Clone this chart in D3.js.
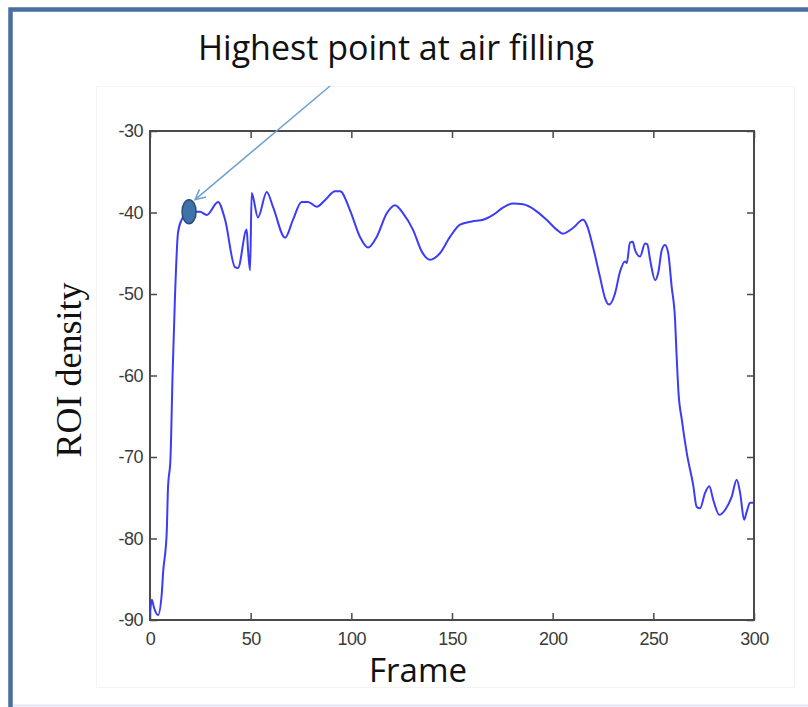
<!DOCTYPE html>
<html>
<head>
<meta charset="utf-8">
<script src="https://cdn.jsdelivr.net/npm/d3@7"></script>
<style>
  body { margin: 0; background: #fff; }
  svg { display: block; }
</style>
</head>
<body>
<svg id="chart" width="808" height="707"></svg>
<script>
// ROI density per frame
const frames = [0, 0.9, 2, 4, 5.8, 6.5, 8.3, 8.9, 10.2, 11.2, 12.4, 13.9, 15.7, 19.4, 24.8, 28.2,
  33.8, 37.3, 42.2, 43.7, 48.0, 48.7, 49.7, 50.5, 51.2, 53.6, 58.0, 61.1, 67.1, 71.0, 75.3,
  78.5, 82.8, 86.9, 91.9, 94.4, 99.3, 104.3, 108.3, 112.6, 117.6, 121.7, 125.7, 130.6, 135.0,
  139.1, 144.0, 149.0, 154.0, 159.8, 165.5, 170.4, 175.3, 180.3, 185.3, 191.2, 197.0, 202.0,
  205.1, 210.1, 215.1, 216.9, 220.0, 223.5, 226.0, 228.0, 231.0, 233.4, 235.9, 236.8, 238.4,
  239.8, 240.9, 243.4, 245.9, 247.0, 248.4, 250.9, 252.5, 254.2, 255.8, 257.4, 259.1, 260.8,
  261.5, 262.5, 264.2, 266.6, 269.9, 271.5, 273.2, 275.7, 277.8, 279.8, 282.8, 285.6, 288.9,
  291.4, 293.1, 295.1, 296.4, 298.0, 300];
const density = [-89.4, -87.5, -88.5, -89.4, -86.9, -84.2, -79.3, -74.0, -70.0, -60.0, -50.4, -42.5,
  -40.9, -39.9, -39.9, -40.3, -38.7, -40.9, -46.7, -46.8, -42.1, -44.6, -47.1, -37.6, -38.1,
  -40.6, -37.5, -39.3, -43.1, -40.9, -38.7, -38.7, -39.3, -38.5, -37.4, -37.4, -39.7, -43.0,
  -44.3, -43.0, -40.1, -39.1, -40.1, -42.1, -44.8, -45.8, -45.0, -43.0, -41.5, -41.1, -40.9,
  -40.3, -39.4, -38.9, -39.0, -39.7, -40.9, -42.1, -42.6, -41.9, -40.9, -41.5, -44.2, -47.9,
  -50.5, -51.3, -49.9, -47.3, -46.0, -46.2, -43.7, -43.6, -44.6, -45.4, -43.8, -43.9, -45.8,
  -48.3, -47.3, -44.6, -44.0, -45.0, -49.1, -53.2, -57.2, -62.1, -65.5, -69.5, -73.6, -76.1,
  -76.3, -74.4, -73.6, -75.3, -77.1, -76.5, -74.9, -72.8, -74.4, -77.7, -76.7, -75.6, -75.6];

const xTicks = [0, 50, 100, 150, 200, 250, 300];
const yTicks = [-30, -40, -50, -60, -70, -80, -90];

// highlighted point where the lung is filled with air
const peakFrame = 19.4;
const peakDensity = -39.9;

const titleText = "Highest point at air filling";
const xLabel = "Frame";
const yLabel = "ROI density";

const svg = d3.select("#chart");

// slide frame: blue border on the left and top, faint edge at the bottom
svg.append("path")
  .attr("d", "M10.5,707 V9.5 H808")
  .attr("fill", "none")
  .attr("stroke", "#4a6e9e")
  .attr("stroke-width", 4.5);
svg.append("line")
  .attr("x1", 13).attr("x2", 808).attr("y1", 705.5).attr("y2", 705.5)
  .attr("stroke", "#e4e4f4").attr("stroke-width", 2);

// faint backing panel of the plot image
svg.append("rect")
  .attr("x", 96.5).attr("y", 86.5).attr("width", 698).attr("height", 601)
  .attr("fill", "#fff").attr("stroke", "#f4f4f4").attr("stroke-width", 1);

const plot = { left: 150, right: 754, top: 131, bottom: 620 };

const x = d3.scaleLinear().domain([0, 300]).range([plot.left, plot.right]);
const y = d3.scaleLinear().domain([-90, -30]).range([plot.bottom, plot.top]);

const tickFont = "'Liberation Sans', Arial, sans-serif";
const axisColor = "#4a4a4a";
const plainNumber = d => String(d);   // hyphen-minus, as MATLAB prints it

function styleAxis(g) {
  g.select(".domain").remove();
  g.selectAll(".tick line").attr("stroke", axisColor).attr("stroke-width", 1.5);
  g.selectAll(".tick text")
    .attr("fill", "#3a3a3a")
    .style("font-family", tickFont)
    .style("font-size", "18px")
    .style("letter-spacing", "-0.5px");
}

svg.append("g")
  .attr("transform", `translate(0,${plot.bottom})`)
  .call(d3.axisBottom(x).tickValues(xTicks).tickFormat(plainNumber)
    .tickSizeInner(-7).tickSizeOuter(0).tickPadding(12))
  .call(styleAxis);

svg.append("g")
  .attr("transform", `translate(${plot.left},0)`)
  .call(d3.axisLeft(y).tickValues(yTicks).tickFormat(plainNumber)
    .tickSizeInner(-7).tickSizeOuter(0).tickPadding(7))
  .call(styleAxis);

svg.append("g")
  .attr("transform", `translate(0,${plot.top})`)
  .call(d3.axisTop(x).tickValues(xTicks).tickSizeInner(-7).tickSizeOuter(0).tickFormat(""))
  .call(styleAxis);

svg.append("g")
  .attr("transform", `translate(${plot.right},0)`)
  .call(d3.axisRight(y).tickValues(yTicks).tickSizeInner(-7).tickSizeOuter(0).tickFormat(""))
  .call(styleAxis);

// axes box
svg.append("rect")
  .attr("x", plot.left).attr("y", plot.top)
  .attr("width", plot.right - plot.left).attr("height", plot.bottom - plot.top)
  .attr("fill", "none").attr("stroke", axisColor).attr("stroke-width", 2);

// density curve
const line = d3.line()
  .x((d, i) => x(frames[i]))
  .y(d => y(d))
  .curve(d3.curveMonotoneX);

svg.append("path")
  .datum(density)
  .attr("d", line)
  .attr("fill", "none")
  .attr("stroke", "#3c3cf6")
  .attr("stroke-width", 2)
  .attr("stroke-linejoin", "round");

// axis labels
svg.append("text")
  .attr("x", 418).attr("y", 682)
  .attr("text-anchor", "middle")
  .style("font-family", "'Open Sans', Lato, sans-serif")
  .style("font-size", "33px")
  .attr("fill", "#111")
  .text(xLabel);

svg.append("text")
  .attr("transform", "translate(81,370) rotate(-90)")
  .attr("text-anchor", "middle")
  .style("font-family", "'Liberation Serif', 'Times New Roman', serif")
  .style("font-size", "36px")
  .attr("fill", "#111")
  .text(yLabel);

// annotation
const px = x(peakFrame), py = y(peakDensity);

svg.append("defs").append("marker")
  .attr("id", "arrowhead")
  .attr("viewBox", "0 0 12 12")
  .attr("refX", 11).attr("refY", 6)
  .attr("markerWidth", 12).attr("markerHeight", 12)
  .attr("markerUnits", "userSpaceOnUse")
  .attr("orient", "auto")
  .append("path")
  .attr("d", "M1,1 L11,6 L1,11")
  .attr("fill", "none")
  .attr("stroke", "#6b9fd6")
  .attr("stroke-width", 1.5);

svg.append("line")
  .attr("x1", 330).attr("y1", 86)
  .attr("x2", px + 6).attr("y2", py - 12)
  .attr("stroke", "#6b9fd6")
  .attr("stroke-width", 1.5)
  .attr("marker-end", "url(#arrowhead)");

svg.append("ellipse")
  .attr("cx", px).attr("cy", py)
  .attr("rx", 7).attr("ry", 12)
  .attr("fill", "#3f72aa")
  .attr("stroke", "#2a4d78")
  .attr("stroke-width", 1.5);

svg.append("text")
  .attr("x", 396).attr("y", 60)
  .attr("text-anchor", "middle")
  .style("font-family", "'Open Sans', Lato, sans-serif")
  .style("font-size", "34px")
  .attr("fill", "#111")
  .text(titleText);
</script>
</body>
</html>
